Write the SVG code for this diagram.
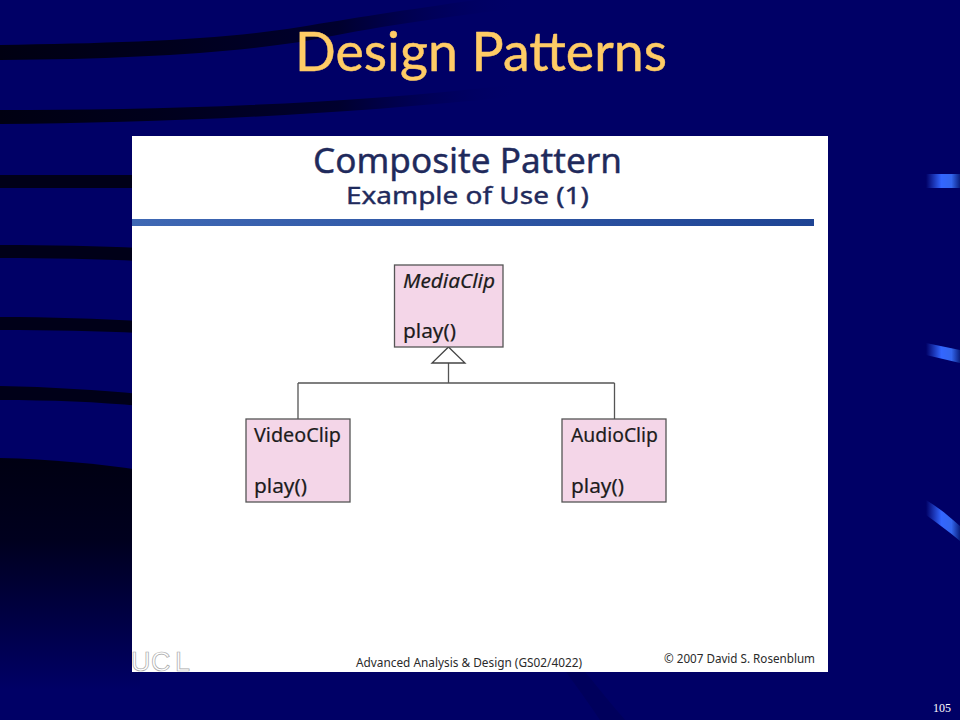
<svg xmlns="http://www.w3.org/2000/svg" width="960" height="720" viewBox="0 0 960 720">
  <style>
    .node { fill: #f4d6e8; stroke: #555; stroke-width: 1.3; }
    .lbl { font-family: "Noto Sans", "DejaVu Sans", sans-serif; font-size: 19px; fill: #1c1c1c; stroke: #1c1c1c; stroke-width: 0.2; }
    .conn { fill: none; stroke: #555; stroke-width: 1.3; }
    .tri { fill: #ffffff; stroke: #444; stroke-width: 1.3; }
    .head { font-family: "Noto Sans", "DejaVu Sans", sans-serif; fill: #1f2a5c; stroke: #1f2a5c; stroke-width: 0.4; }
    .foot { font-family: "Noto Sans", "DejaVu Sans", sans-serif; font-size: 12.5px; fill: #2a2a2a; }
  </style>
  <defs>
    <linearGradient id="fadeL" gradientUnits="userSpaceOnUse" x1="0" y1="0" x2="520" y2="0">
      <stop offset="0" stop-color="#000012"/>
      <stop offset="0.3" stop-color="#00001c"/>
      <stop offset="0.65" stop-color="#00002e"/>
      <stop offset="1" stop-color="#000066" stop-opacity="0"/>
    </linearGradient>
    <linearGradient id="low" x1="0" y1="0" x2="0" y2="1">
      <stop offset="0" stop-color="#000012"/>
      <stop offset="0.35" stop-color="#00001e"/>
      <stop offset="1" stop-color="#000066"/>
    </linearGradient>
    <linearGradient id="chip" gradientUnits="userSpaceOnUse" x1="926" y1="0" x2="960" y2="0">
      <stop offset="0" stop-color="#000066"/>
      <stop offset="0.45" stop-color="#3366ff"/>
      <stop offset="0.75" stop-color="#3366ee"/>
      <stop offset="1" stop-color="#0a1f80"/>
    </linearGradient>
    <linearGradient id="bar" x1="0" y1="0" x2="1" y2="0">
      <stop offset="0" stop-color="#3f68b4"/>
      <stop offset="1" stop-color="#1e4494"/>
    </linearGradient>
    <clipPath id="slideClip"><rect x="132" y="136" width="696" height="536"/></clipPath>
  </defs>

  <rect width="960" height="720" fill="#000066"/>
  <path d="M0 45 C120 43 220 40 300 27 C360 17 430 6 520 -6 L520 8 C430 18 360 30 300 42 C220 54 120 59 0 60 Z" fill="url(#fadeL)"/>
  <path d="M0 110 C150 110 330 106 520 84 L520 96 C330 116 150 123 0 124 Z" fill="url(#fadeL)"/>
  <path d="M0 175 H140 V188 H0 Z" fill="#000018"/>
  <path d="M0 245 C50 245 100 246 140 248 V261 C100 259 50 258 0 258 Z" fill="#000018"/>
  <path d="M0 317 C50 317 100 319 140 321 V333 C100 331 50 330 0 330 Z" fill="#000018"/>
  <path d="M0 386 C50 387 100 390 140 394 V406 C100 402 50 400 0 400 Z" fill="#000018"/>
  <path d="M0 458 C50 459 100 464 140 470 V690 H0 Z" fill="url(#low)"/>
  <path d="M566 672 L585 672 C600 690 612 705 625 720 L600 720 C590 705 578 688 566 672 Z" fill="#00005c"/>

  <rect x="926" y="174" width="34" height="14" fill="url(#chip)"/>
  <path d="M926 343 L960 350 V363 L926 355 Z" fill="url(#chip)"/>
  <path d="M926 500 C938 507 950 517 960 526 V541 C948 531 937 523 926 515 Z" fill="url(#chip)"/>

  <text x="481" y="71" text-anchor="middle" font-family="Lato, 'Noto Sans', sans-serif" font-size="54" fill="#ffcc66" stroke="#ffcc66" stroke-width="0.5" stroke-linejoin="round" textLength="372" lengthAdjust="spacingAndGlyphs">Design Patterns</text>

  <rect x="132" y="136" width="696" height="536" fill="#ffffff"/>
  <text class="head" x="313" y="173" font-size="34" textLength="309" lengthAdjust="spacingAndGlyphs">Composite Pattern</text>
  <text class="head" x="346" y="204" font-size="23.5" textLength="243" lengthAdjust="spacingAndGlyphs">Example of Use (1)</text>
  <rect x="132" y="219" width="682" height="7" fill="url(#bar)"/>

  <g id="connectors">
    <path class="conn" d="M448.5 363 V383 M298 383 H614.5 M298 383 V419 M614.5 383 V419"/>
    <path class="tri" d="M448.5 347 L465 363 H432 Z"/>
  </g>

  <g id="MediaClip">
    <rect class="node" x="394.5" y="265" width="108.5" height="82"/>
    <text class="lbl" x="403" y="288" font-style="italic" textLength="92" lengthAdjust="spacingAndGlyphs">MediaClip</text>
    <text class="lbl" x="403" y="338" textLength="53" lengthAdjust="spacingAndGlyphs">play()</text>
  </g>
  <g id="VideoClip">
    <rect class="node" x="246" y="419" width="104" height="83"/>
    <text class="lbl" x="254" y="442" textLength="87" lengthAdjust="spacingAndGlyphs">VideoClip</text>
    <text class="lbl" x="254" y="493" textLength="53" lengthAdjust="spacingAndGlyphs">play()</text>
  </g>
  <g id="AudioClip">
    <rect class="node" x="562" y="419" width="104" height="83"/>
    <text class="lbl" x="571" y="442" textLength="87" lengthAdjust="spacingAndGlyphs">AudioClip</text>
    <text class="lbl" x="571" y="493" textLength="53" lengthAdjust="spacingAndGlyphs">play()</text>
  </g>

  <g clip-path="url(#slideClip)">
    <text x="131 151 175" y="671" font-family="'Liberation Sans', sans-serif" font-size="27" fill="#ffffff" stroke="#a8a8a8" stroke-width="0.7">UCL</text>
  </g>
  <text class="foot" x="356" y="667" textLength="226" lengthAdjust="spacingAndGlyphs">Advanced Analysis &amp; Design (GS02/4022)</text>
  <text class="foot" x="664" y="663" textLength="151" lengthAdjust="spacingAndGlyphs">© 2007 David S. Rosenblum</text>

  <text x="951" y="712" text-anchor="end" font-family="'Liberation Serif', serif" font-size="12" fill="#ffffff">105</text>
</svg>
